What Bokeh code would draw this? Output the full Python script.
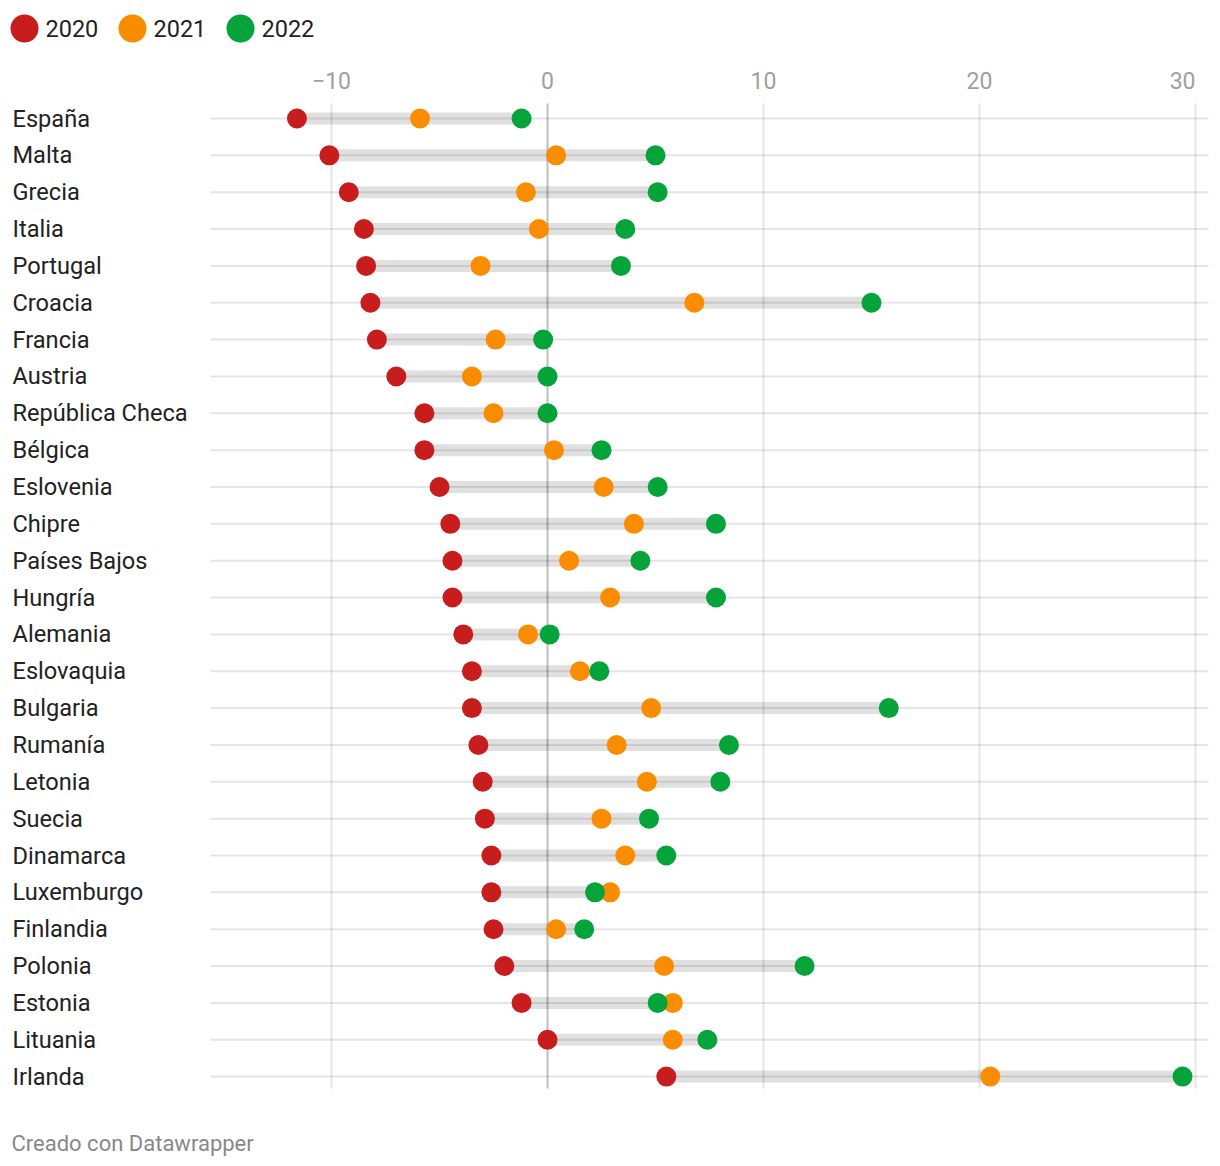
from bokeh.plotting import figure
from bokeh.models import Range1d
from bokeh.core.properties import value
from bokeh.embed import file_html
from bokeh.resources import INLINE

# ---------------- data ----------------
countries = ["España", "Malta", "Grecia", "Italia", "Portugal", "Croacia", "Francia",
             "Austria", "República Checa", "Bélgica", "Eslovenia", "Chipre",
             "Países Bajos", "Hungría", "Alemania", "Eslovaquia", "Bulgaria",
             "Rumanía", "Letonia", "Suecia", "Dinamarca", "Luxemburgo", "Finlandia",
             "Polonia", "Estonia", "Lituania", "Irlanda"]
v2020 = [-11.6, -10.1, -9.2, -8.5, -8.4, -8.2, -7.9, -7.0, -5.7, -5.7, -5.0, -4.5,
         -4.4, -4.4, -3.9, -3.5, -3.5, -3.2, -3.0, -2.9, -2.6, -2.6, -2.5, -2.0,
         -1.2, 0.0, 5.5]
v2021 = [-5.9, 0.4, -1.0, -0.4, -3.1, 6.8, -2.4, -3.5, -2.5, 0.3, 2.6, 4.0,
         1.0, 2.9, -0.9, 1.5, 4.8, 3.2, 4.6, 2.5, 3.6, 2.9, 0.4, 5.4,
         5.8, 5.8, 20.5]
v2022 = [-1.2, 5.0, 5.1, 3.6, 3.4, 15.0, -0.2, 0.0, 0.0, 2.5, 5.1, 7.8,
         4.3, 7.8, 0.1, 2.4, 15.8, 8.4, 8.0, 4.7, 5.5, 2.2, 1.7, 11.9,
         5.1, 7.4, 29.4]
series_names = ["2020", "2021", "2022"]
series_colors = ["#c71e1d", "#fa8c00", "#05a43a"]
ticks = [-10, 0, 10, 20, 30]
tick_labels = ["\u221210", "0", "10", "20", "30"]
footer = "Creado con Datawrapper"

# ---------------- layout ----------------
W, H = 1220, 1166
PX_PER_UNIT = 21.6          # pixels per x unit
ZERO_PX = 547               # x=0 position in figure pixels
ROW0_PX = 118               # first row centre in figure pixels
ROW_STEP = 36.85            # pixels between rows
PLOT_LEFT_PX, PLOT_RIGHT_PX = 210, 1208
PLOT_TOP_PX, PLOT_BOTTOM_PX = 103, 1088
FONT = "Roboto"


def xd(px):
    return (px - ZERO_PX) / PX_PER_UNIT


def yd(py):
    return (py - ROW0_PX) / ROW_STEP


p = figure(width=W, height=H, output_backend="svg", toolbar_location=None,
           x_range=Range1d(xd(0), xd(W)), y_range=Range1d(yd(H), yd(0)),
           x_axis_location=None, y_axis_location=None,
           min_border=0, min_border_left=0, min_border_right=0,
           min_border_top=0, min_border_bottom=0)
p.outline_line_color = None
p.grid.visible = False
p.background_fill_color = "white"
p.border_fill_color = "white"

rows = list(range(len(countries)))
lo = [min(a, b, c) for a, b, c in zip(v2020, v2021, v2022)]
hi = [max(a, b, c) for a, b, c in zip(v2020, v2021, v2022)]

# range bars
p.segment(x0=lo, y0=rows, x1=hi, y1=rows, line_color="#e0e0e0", line_width=12,
          line_cap="butt")

# horizontal grid lines per row
p.segment(x0=[xd(PLOT_LEFT_PX)] * len(rows), y0=rows,
          x1=[xd(PLOT_RIGHT_PX)] * len(rows), y1=rows,
          line_color="black", line_alpha=0.1, line_width=2)

# vertical grid lines
other = [t for t in ticks if t != 0]
p.segment(x0=other, y0=[yd(PLOT_TOP_PX)] * len(other), x1=other,
          y1=[yd(PLOT_BOTTOM_PX)] * len(other),
          line_color="black", line_alpha=0.1, line_width=2)
p.segment(x0=[0], y0=[yd(PLOT_TOP_PX)], x1=[0], y1=[yd(PLOT_BOTTOM_PX)],
          line_color="black", line_alpha=0.25, line_width=2)

# dots
for vals, col in zip([v2020, v2021, v2022], series_colors):
    p.scatter(x=vals, y=rows, size=20, fill_color=col, line_color=None)

# country labels
p.text(x=[xd(12)] * len(rows), y=rows, text=countries, text_font=value(FONT),
       text_font_size="23.6px", text_color="#222222", text_baseline="middle",
       text_align="left")

# tick labels
tick_y = yd(80)
p.text(x=ticks[:-1], y=[tick_y] * (len(ticks) - 1), text=tick_labels[:-1],
       text_font=value(FONT), text_font_size="23px", text_color="#a0a0a0",
       text_baseline="middle", text_align="center")
p.text(x=ticks[-1:], y=[tick_y], text=tick_labels[-1:],
       text_font=value(FONT), text_font_size="23px", text_color="#a0a0a0",
       text_baseline="middle", text_align="right")

# legend
LEG_Y = 28
leg_cx = [24 + 108 * i for i in range(len(series_names))]
p.scatter(x=[xd(c) for c in leg_cx], y=[yd(LEG_Y)] * len(leg_cx), size=28,
          fill_color=series_colors, line_color=None)
p.text(x=[xd(c + 21) for c in leg_cx], y=[yd(LEG_Y)] * len(leg_cx),
       text=series_names, text_font=value(FONT), text_font_size="23.5px",
       text_color="#222222", text_baseline="middle", text_align="left")

# footer
p.text(x=[xd(11)], y=[yd(1143)], text=[footer], text_font=value(FONT),
       text_font_size="22px", text_color="#888888", text_baseline="middle",
       text_align="left")

open("out.html", "w").write(file_html(p, INLINE))
